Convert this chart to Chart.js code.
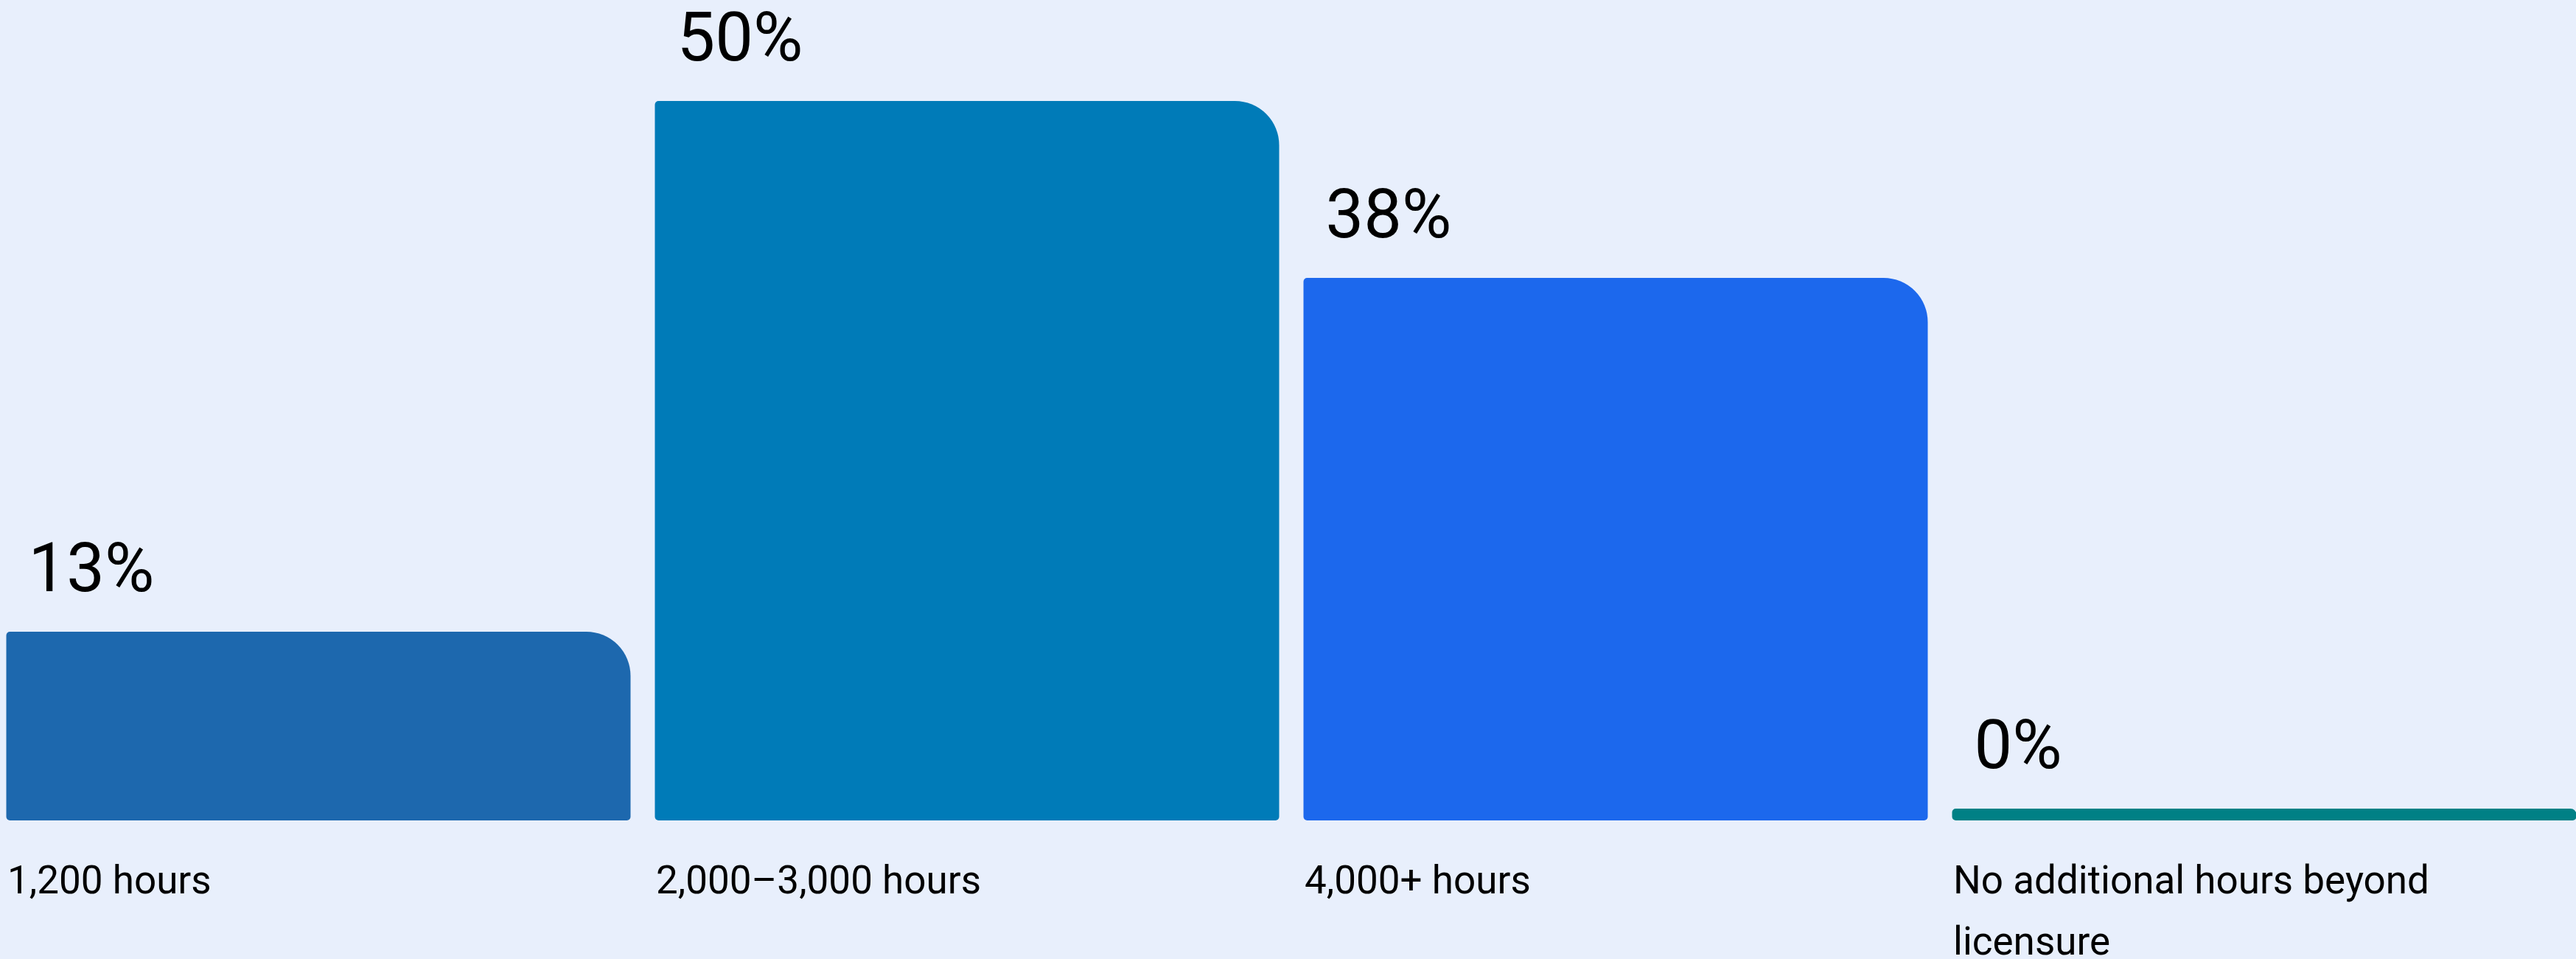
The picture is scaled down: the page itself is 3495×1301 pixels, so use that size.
<!DOCTYPE html>
<html>
<head>
<meta charset="utf-8">
<script src="https://cdn.jsdelivr.net/npm/chart.js@4"></script>
<style>
  html, body { margin: 0; padding: 0; background: #e8effc; overflow: hidden; }
  #wrap { position: absolute; left: -8px; top: 0; width: 3520px; height: 1301px; }
</style>
</head>
<body>
<div id="wrap"><canvas id="chart"></canvas></div>
<script>
const categories = [
  "1,200 hours",
  "2,000–3,000 hours",
  "4,000+ hours",
  ["No additional hours beyond", "licensure"]
];
const shares = [12.5, 50, 37.5, 0];
const barColors = ["#1d68ae", "#007bb8", "#1c68ed", "#008085"];

const FONT = "Roboto, 'Noto Sans', sans-serif";
// bars all start a bit below zero, so a 0% bar still shows as a thin strip
const stub = -0.8333;

const valueLabels = {
  id: "valueLabels",
  afterDatasetsDraw(chart) {
    const { ctx } = chart;
    const meta = chart.getDatasetMeta(0);
    ctx.save();
    ctx.font = `400 92px ${FONT}`;
    ctx.fillStyle = "#000";
    ctx.textAlign = "left";
    ctx.textBaseline = "alphabetic";
    meta.data.forEach((bar, i) => {
      ctx.fillText(Math.round(shares[i]) + "%", bar.x - bar.width / 2 + 30, bar.y - 55);
    });
    ctx.restore();
  }
};

new Chart(document.getElementById("chart").getContext("2d"), {
  type: "bar",
  data: {
    labels: categories,
    datasets: [{
      data: shares,
      backgroundColor: barColors,
      base: stub,
      borderSkipped: false,
      borderRadius: { topLeft: 5, topRight: 60, bottomLeft: 5, bottomRight: 5 },
      barPercentage: 0.9625,
      categoryPercentage: 1
    }]
  },
  options: {
    responsive: true,
    maintainAspectRatio: false,
    animation: false,
    layout: { padding: { top: 137, left: 0, right: 0, bottom: 0 } },
    plugins: { legend: { display: false }, tooltip: { enabled: false } },
    scales: {
      x: {
        grid: { display: false },
        border: { display: false },
        ticks: {
          color: "#000",
          font: { family: FONT, size: 53, lineHeight: 1.566 },
          align: "start",
          labelOffset: -422,
          padding: 36,
          maxRotation: 0,
          autoSkip: false
        },
        afterFit(axis) {
          axis.height = 188;
          axis.paddingLeft = 0;
          axis.paddingRight = 0;
        }
      },
      y: { display: false, min: stub, max: 50 }
    }
  },
  plugins: [valueLabels]
});
</script>
</body>
</html>
